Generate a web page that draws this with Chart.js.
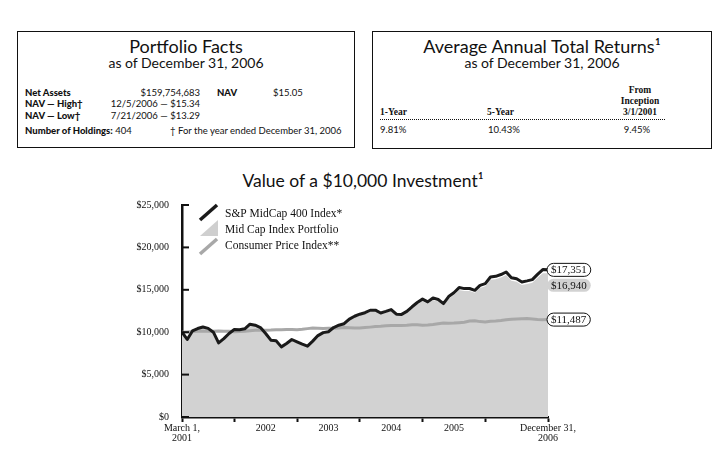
<!DOCTYPE html>
<html>
<head>
<meta charset="utf-8">
<script src="https://cdn.jsdelivr.net/npm/chart.js@4.4.1/dist/chart.umd.min.js"></script>
<style>
  body { margin: 0; width: 726px; height: 458px; background: #fff; position: relative; overflow: hidden; color: #111; font-family: Lato, "Open Sans", sans-serif; }
  .box { position: absolute; border: 1.5px solid #111; box-sizing: border-box; }
  .t { position: absolute; white-space: nowrap; line-height: 1; }
  .b { font-weight: 900; }
  .s { font-family: "Liberation Serif", serif; font-weight: bold; }
  .sm { font-size: 9.5px; }
  #chart { position: absolute; left: 0; top: 0; }
</style>
</head>
<body>
<!-- Portfolio Facts -->
<div class="box" style="left:17px;top:31px;width:338px;height:117px"></div>
<div class="t" style="left:17px;width:338px;text-align:center;top:37px;font-size:18px">Portfolio Facts</div>
<div class="t" style="left:17px;width:338px;text-align:center;top:56px;font-size:14px">as of December 31, 2006</div>
<div class="t sm b" style="left:25px;top:88px">Net Assets</div>
<div class="t sm" style="left:100px;width:100px;text-align:right;top:88px">$159,754,683</div>
<div class="t sm b" style="left:217px;top:88px">NAV</div>
<div class="t sm" style="left:273px;top:88px">$15.05</div>
<div class="t sm b" style="left:25px;top:99px">NAV — High†</div>
<div class="t sm" style="left:100px;width:100px;text-align:right;top:99px">12/5/2006 — $15.34</div>
<div class="t sm b" style="left:25px;top:111px">NAV — Low†</div>
<div class="t sm" style="left:100px;width:100px;text-align:right;top:111px">7/21/2006 — $13.29</div>
<div class="t sm" style="left:25px;top:126px"><span class="b">Number of Holdings:</span> 404</div>
<div class="t sm" style="left:170px;top:126px">† For the year ended December 31, 2006</div>

<!-- Average Annual Total Returns -->
<div class="box" style="left:372px;top:31px;width:340px;height:118px"></div>
<div class="t" style="left:372px;width:340px;text-align:center;top:37px;font-size:18px">Average Annual Total Returns¹</div>
<div class="t" style="left:372px;width:340px;text-align:center;top:56px;font-size:14px">as of December 31, 2006</div>
<div class="t sm s" style="left:600px;width:80px;text-align:center;top:86px">From</div>
<div class="t sm s" style="left:600px;width:80px;text-align:center;top:97px">Inception</div>
<div class="t sm s" style="left:600px;width:80px;text-align:center;top:108px">3/1/2001</div>
<div class="t sm s" style="left:380px;top:108px">1-Year</div>
<div class="t sm s" style="left:487px;top:108px">5-Year</div>
<div style="position:absolute;left:380px;top:119px;width:285px;border-top:1px dotted #111"></div>
<div class="t sm" style="left:380px;top:125px">9.81%</div>
<div class="t sm" style="left:488px;top:125px">10.43%</div>
<div class="t sm" style="left:597px;width:80px;text-align:center;top:125px">9.45%</div>

<!-- chart title -->
<div class="t" style="left:0;width:726px;text-align:center;top:172px;font-size:17.5px;padding-left:0">Value of a $10,000 Investment¹</div>

<canvas id="chart" width="726" height="458"></canvas>

<script>
// month-end values, index 0 = March 1, 2001 ... index 70 = December 31, 2006
const seriesNames = ["S&P MidCap 400 Index*", "Mid Cap Index Portfolio", "Consumer Price Index**"];

const sp400 = [
  10000, 9140, 10150, 10430, 10620, 10450, 10000, 8740, 9250, 9850, 10320,
  10300, 10400, 10940, 10820, 10550, 9850, 9060, 8980, 8270, 8670, 9140, 8860,
  8590, 8350, 8950, 9600, 9950, 10050, 10550, 10820, 11000, 11550, 11880, 12120,
  12300, 12590, 12600, 12270, 12450, 12670, 12120, 12100, 12450, 13000, 13500, 13900,
  13570, 14040, 13850, 13370, 14200, 14650, 15260, 15140, 15150, 14940, 15530, 15730,
  16510, 16590, 16800, 17100, 16430, 16300, 15920, 16050, 16200, 16820, 17380, 17351
];

const portfolio = [
  10000, 9137, 10143, 10419, 10605, 10432, 9979, 8719, 9225, 9820, 10285,
  10261, 10357, 10891, 10768, 10496, 9796, 9007, 8925, 8216, 8611, 9074, 8793,
  8522, 8281, 8873, 9514, 9858, 9954, 10445, 10709, 10883, 11423, 11746, 11979,
  12152, 12435, 12440, 12110, 12283, 12496, 11950, 11926, 12266, 12804, 13292, 13681,
  13351, 13809, 13617, 13141, 13952, 14387, 14983, 14860, 14864, 14653, 15226, 15417,
  16176, 16249, 16448, 16736, 16075, 15942, 15565, 15686, 15827, 16428, 16966, 16940
];

const cpi = [
  10000, 10030, 10069, 10115, 10132, 10104, 10104, 10149, 10115, 10098, 10058,
  10081, 10121, 10178, 10235, 10235, 10240, 10252, 10286, 10303, 10320, 10320, 10297,
  10343, 10422, 10485, 10462, 10445, 10456, 10468, 10508, 10542, 10530, 10502, 10491,
  10542, 10599, 10667, 10701, 10764, 10798, 10781, 10787, 10809, 10866, 10872, 10832,
  10855, 10918, 11003, 11077, 11066, 11071, 11122, 11179, 11316, 11339, 11248, 11202,
  11288, 11310, 11373, 11470, 11527, 11549, 11584, 11606, 11549, 11487, 11470, 11487
];

// x axis: tick marks at year ends, labels in the middle of each year
const yearEndTicks = [0, 10, 22, 34, 46, 58, 70];
const xLabelPos = [0, 16, 28, 40, 52, 70];
const xLabelText = [["March 1,", "2001"], "2002", "2003", "2004", "2005", ["December 31,", "2006"]];
const yTicks = [0, 5000, 10000, 15000, 20000, 25000];

const monthIndex = sp400.map((_, i) => i);
const fmt = v => "$" + v.toLocaleString("en-US");
const serif = "'Liberation Serif', 'DejaVu Serif', serif";

const extras = {
  id: "extras",
  afterDatasetsDraw(chart) {
    const { ctx, scales: { x, y }, chartArea } = chart;
    ctx.save();

    // short tick marks inside the y axis
    ctx.strokeStyle = "#111";
    ctx.lineWidth = 2;
    yTicks.forEach(v => {
      const py = y.getPixelForValue(v);
      ctx.beginPath();
      ctx.moveTo(chartArea.left, py);
      ctx.lineTo(chartArea.left + 7, py);
      ctx.stroke();
    });

    // legend
    const lx = 200, rows = [214, 230, 246];
    ctx.lineCap = "butt";
    ctx.strokeStyle = "#1a1a1a"; ctx.lineWidth = 3.5;
    ctx.beginPath(); ctx.moveTo(lx, rows[0] + 6); ctx.lineTo(lx + 17, rows[0] - 9); ctx.stroke();
    ctx.fillStyle = "#cfcfcf";
    ctx.beginPath(); ctx.moveTo(lx, rows[1] + 6); ctx.lineTo(lx + 18, rows[1] + 6); ctx.lineTo(lx + 18, rows[1] - 10); ctx.closePath(); ctx.fill();
    ctx.strokeStyle = "#a8a8a8";
    ctx.beginPath(); ctx.moveTo(lx, rows[2] + 8); ctx.lineTo(lx + 17, rows[2] - 7); ctx.stroke();
    ctx.fillStyle = "#111";
    ctx.font = "11.5px " + serif;
    ctx.textBaseline = "middle";
    ctx.textAlign = "left";
    seriesNames.forEach((n, i) => ctx.fillText(n, 225, rows[i]));

    // value tags at the end of each series
    const xEnd = x.getPixelForValue(70);
    const tags = [
      { v: sp400[sp400.length - 1], dy: 0, fill: "#fff", stroke: true },
      { v: portfolio[portfolio.length - 1], dy: 12, fill: "#d2d2d2", stroke: false },
      { v: cpi[cpi.length - 1], dy: 0, fill: "#fff", stroke: true }
    ];
    ctx.font = "11px " + serif;
    tags.forEach(t => {
      const cy = y.getPixelForValue(t.v) + t.dy;
      const txt = fmt(t.v);
      const w = ctx.measureText(txt).width + 8, h = 13;
      const bx = xEnd - 1;
      ctx.beginPath();
      ctx.roundRect(bx, cy - h / 2, w, h, 6.5);
      ctx.fillStyle = t.fill;
      ctx.fill();
      if (t.stroke) { ctx.strokeStyle = "#111"; ctx.lineWidth = 1; ctx.stroke(); }
      ctx.fillStyle = "#111";
      ctx.fillText(txt, bx + 4, cy + 0.5);
    });
    ctx.restore();
  }
};

new Chart(document.getElementById("chart"), {
  type: "line",
  data: {
    labels: monthIndex,
    datasets: [
      { label: seriesNames[0], data: sp400, borderColor: "#1a1a1a", borderWidth: 3, pointRadius: 0, tension: 0, fill: false, borderJoinStyle: "round" },
      { label: seriesNames[2], data: cpi, borderColor: "#a8a8a8", borderWidth: 3, pointRadius: 0, tension: 0, fill: false },
      { label: seriesNames[1], data: portfolio, borderColor: "#d2d2d2", borderWidth: 0, backgroundColor: "#d2d2d2", pointRadius: 0, tension: 0, fill: "origin" }
    ]
  },
  options: {
    responsive: false,
    animation: false,
    layout: { padding: { left: 0, top: 205, right: 178, bottom: 0 } },
    plugins: { legend: { display: false }, tooltip: { enabled: false } },
    scales: {
      x: {
        type: "linear", min: 0, max: 70,
        afterBuildTicks: s => { s.ticks = [...new Set([...yearEndTicks, ...xLabelPos])].sort((a, b) => a - b).map(v => ({ value: v })); },
        afterFit: s => { s.height = 41; },
        ticks: {
          autoSkip: false, maxRotation: 0, padding: 1, color: "#111",
          font: { family: serif, size: 10, lineHeight: 1.05 },
          callback: v => { const i = xLabelPos.indexOf(v); return i >= 0 ? xLabelText[i] : ""; }
        },
        grid: {
          drawOnChartArea: false, tickLength: 5, tickWidth: 2,
          tickColor: c => yearEndTicks.includes(c.tick.value) ? "#111" : "rgba(0,0,0,0)"
        },
        border: { color: "#111", width: 2.5 }
      },
      y: {
        min: 0, max: 25000,
        afterBuildTicks: s => { s.ticks = yTicks.map(v => ({ value: v })); },
        afterFit: s => { s.width = 182; },
        ticks: { padding: 5, color: "#111", font: { family: serif, size: 10 }, callback: v => fmt(v) },
        grid: { display: false },
        border: { color: "#111", width: 2.5 }
      }
    }
  },
  plugins: [extras]
});
</script>
</body>
</html>
